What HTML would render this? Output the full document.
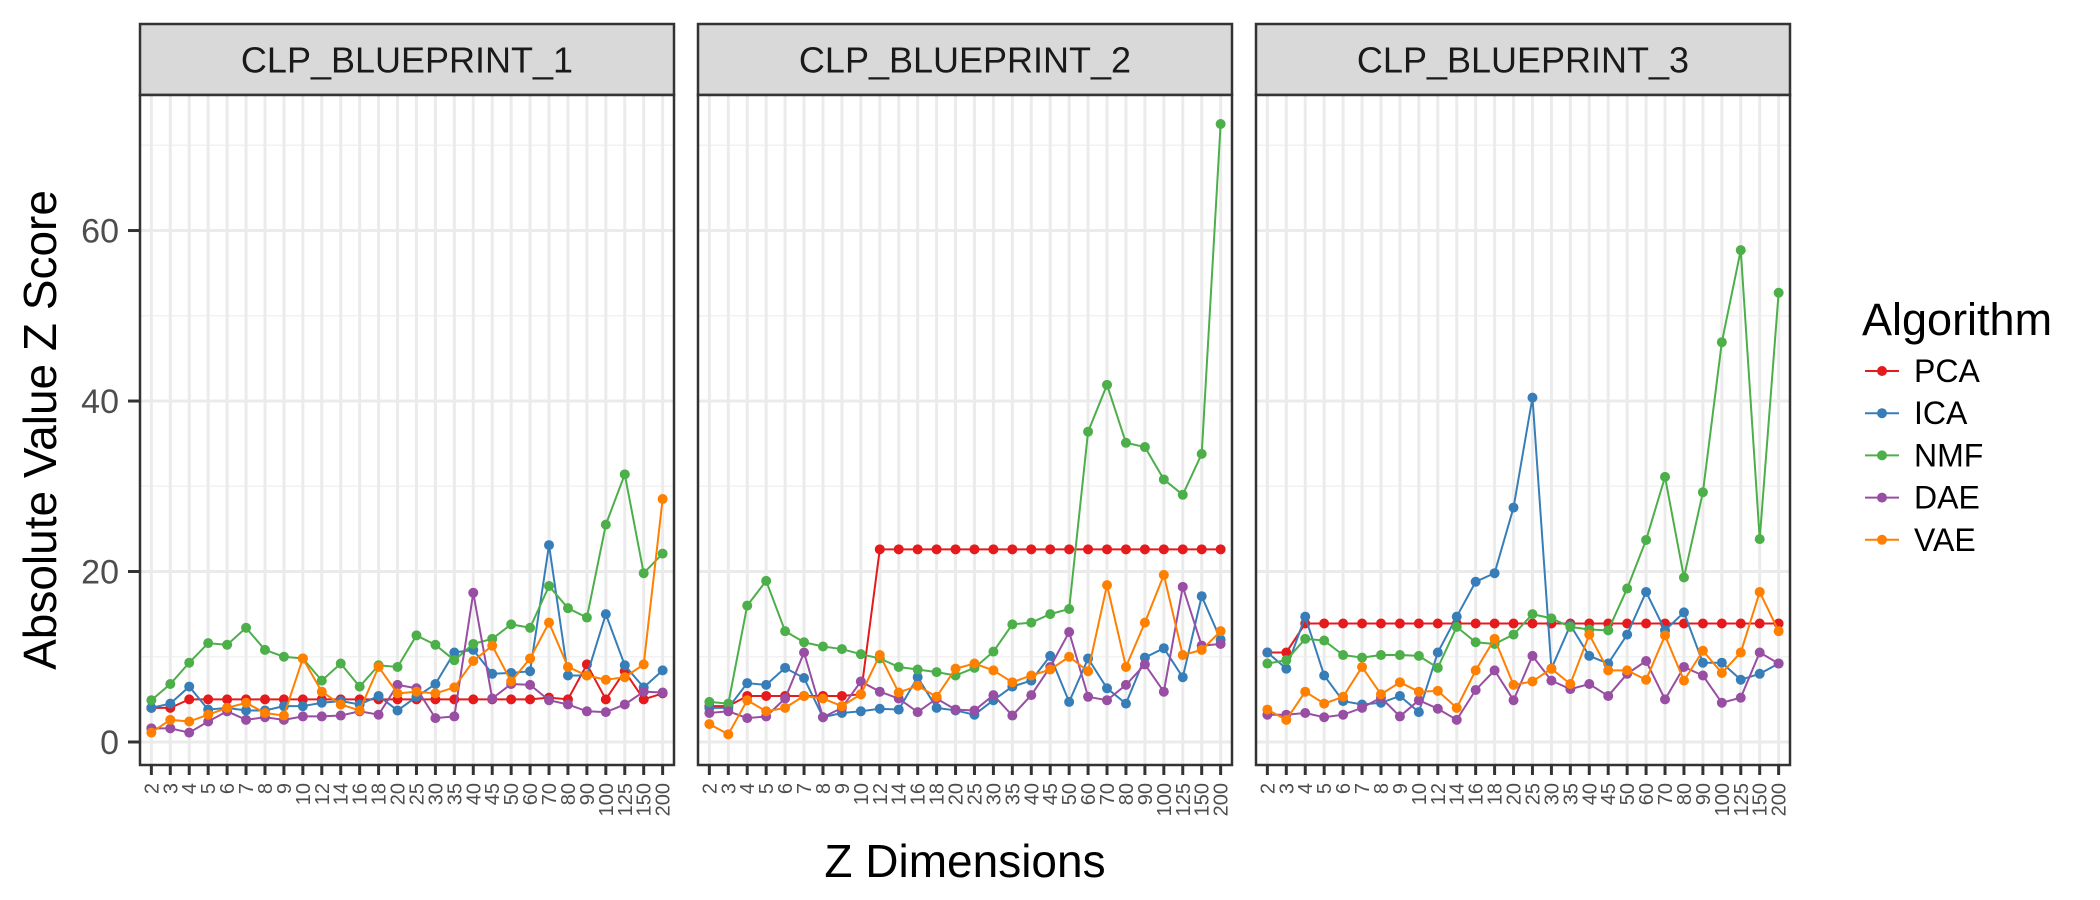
<!DOCTYPE html>
<html><head><meta charset="utf-8"><style>
html,body{margin:0;padding:0;background:#fff;}
svg{display:block;font-family:"Liberation Sans",Arial,sans-serif;}
</style></head><body>
<svg id="chart" width="2100" height="900" viewBox="0 0 2100 900" xmlns="http://www.w3.org/2000/svg"></svg>
<script>
const categories = ["2","3","4","5","6","7","8","9","10","12","14","16","18","20","25","30","35","40","45","50","60","70","80","90","100","125","150","200"];
const panels = ["CLP_BLUEPRINT_1","CLP_BLUEPRINT_2","CLP_BLUEPRINT_3"];
const algorithms = ["PCA","ICA","NMF","DAE","VAE"];
const yTicks = [0,20,40,60];
const yMinor = [10,30,50,70];
// Panel 1
const p1PCA = [4.0,4.0,5.0,5.0,5.0,5.0,5.0,5.0,5.0,5.0,5.0,5.0,5.0,5.0,5.0,5.0,5.0,5.0,5.0,5.0,5.0,5.2,5.0,9.1,5.0,8.3,5.0,5.7];
const p1ICA = [4.0,4.5,6.5,3.8,4.0,3.7,3.7,4.2,4.2,4.6,4.8,4.4,5.4,3.7,5.3,6.8,10.5,10.8,8.0,8.1,8.3,23.1,7.8,7.8,15.0,9.0,6.4,8.4];
const p1NMF = [4.9,6.8,9.3,11.6,11.4,13.4,10.8,10.0,9.8,7.2,9.2,6.5,9.0,8.8,12.5,11.4,9.6,11.5,12.1,13.8,13.4,18.3,15.7,14.6,25.5,31.4,19.8,22.1];
const p1DAE = [1.6,1.6,1.1,2.4,3.6,2.6,2.9,2.6,3.0,3.0,3.1,3.6,3.2,6.7,6.3,2.8,3.0,17.5,5.1,6.8,6.7,4.9,4.4,3.6,3.5,4.4,5.9,5.8];
const p1VAE = [1.1,2.6,2.4,3.2,4.0,4.6,3.4,3.1,9.8,5.9,4.4,3.7,8.8,5.7,5.9,5.7,6.4,9.5,11.3,7.1,9.8,14.0,8.8,7.8,7.3,7.6,9.1,28.5];
// Panel 2
const p2PCA = [4.2,4.2,5.4,5.4,5.4,5.4,5.4,5.4,5.6,22.6,22.6,22.6,22.6,22.6,22.6,22.6,22.6,22.6,22.6,22.6,22.6,22.6,22.6,22.6,22.6,22.6,22.6,22.6];
const p2ICA = [4.0,4.0,6.9,6.7,8.7,7.5,2.9,3.4,3.6,3.9,3.8,7.6,4.0,3.7,3.2,4.9,6.5,7.2,10.1,4.7,9.8,6.3,4.5,9.9,11.0,7.6,17.1,12.0];
const p2NMF = [4.7,4.5,16.0,18.9,13.0,11.7,11.2,10.9,10.3,9.8,8.8,8.5,8.2,7.8,8.7,10.6,13.8,14.0,15.0,15.6,36.4,41.9,35.1,34.6,30.8,29.0,33.8,72.5];
const p2DAE = [3.4,3.6,2.8,3.0,5.1,10.5,2.9,4.0,7.1,5.9,5.1,3.5,5.1,3.8,3.7,5.5,3.1,5.5,8.8,12.9,5.3,4.9,6.7,9.1,5.9,18.2,11.3,11.5];
const p2VAE = [2.1,0.9,4.9,3.6,4.0,5.4,5.1,4.2,5.6,10.2,5.8,6.6,5.3,8.6,9.2,8.4,7.0,7.8,8.5,10.0,8.3,18.4,8.8,14.0,19.6,10.2,10.8,13.0];
// Panel 3
const p3PCA = [10.5,10.5,13.9,13.9,13.9,13.9,13.9,13.9,13.9,13.9,13.9,13.9,13.9,13.9,13.9,13.9,13.9,13.9,13.9,13.9,13.9,13.9,13.9,13.9,13.9,13.9,13.9,13.9];
const p3ICA = [10.5,8.6,14.7,7.8,4.8,4.4,4.6,5.4,3.5,10.5,14.7,18.8,19.8,27.5,40.4,8.6,13.7,10.1,9.2,12.6,17.6,13.1,15.2,9.3,9.3,7.3,8.0,9.2];
const p3NMF = [9.2,9.6,12.1,11.9,10.2,9.9,10.2,10.2,10.1,8.7,13.5,11.7,11.5,12.6,15.0,14.5,13.5,13.2,13.1,18.0,23.7,31.1,19.3,29.3,46.9,57.7,23.8,52.7];
const p3DAE = [3.2,3.2,3.4,2.9,3.2,4.0,5.2,3.0,4.9,3.9,2.6,6.1,8.4,4.9,10.1,7.2,6.2,6.8,5.4,8.0,9.5,5.0,8.8,7.8,4.6,5.2,10.5,9.2];
const p3VAE = [3.8,2.6,5.9,4.5,5.3,8.8,5.6,7.0,5.9,6.0,4.0,8.4,12.1,6.7,7.1,8.6,6.8,12.6,8.4,8.4,7.3,12.5,7.2,10.7,8.1,10.5,17.6,13.0];

const series = [[p1PCA,p1ICA,p1NMF,p1DAE,p1VAE],[p2PCA,p2ICA,p2NMF,p2DAE,p2VAE],[p3PCA,p3ICA,p3NMF,p3DAE,p3VAE]];
const colors = ["#E41A1C","#377EB8","#4DAF4A","#984EA3","#FF7F00"];

const NS="http://www.w3.org/2000/svg";
const svg=document.getElementById('chart');
function mk(tag,attrs,parent){const e=document.createElementNS(NS,tag);for(const k in attrs)e.setAttribute(k,attrs[k]);(parent||svg).appendChild(e);return e;}

const panelLefts=[140,698,1256], panelW=534, plotTop=95, plotBottom=765, stripTop=24;
const yMin=-2.7, yMax=75.9;
function yScale(v){return plotBottom-(v-yMin)/(yMax-yMin)*(plotBottom-plotTop);}
const step=panelW/(categories.length-1+1.2);
function xScale(p,i){return panelLefts[p]+step*(0.6+i);}

panels.forEach((name,p)=>{
  const L=panelLefts[p];
  const g=mk('g',{});
  
  
  const strip=mk('rect',{x:L,y:stripTop,width:panelW,height:plotTop-stripTop,fill:'#d9d9d9',stroke:'#333',"stroke-width":2.5},g);
  
  
  const st=mk('text',{x:L+panelW/2,y:(stripTop+plotTop)/2+13,"text-anchor":"middle","font-size":36,fill:'#1a1a1a'},g);
  st.textContent=name;
  
  
  mk('rect',{x:L,y:plotTop,width:panelW,height:plotBottom-plotTop,fill:'#fff'},g);
  yMinor.forEach(v=>{const ln=mk('line',{x1:L,x2:L+panelW,y1:yScale(v),y2:yScale(v),stroke:'#f2f2f2',"stroke-width":1.5},g);
    });
  yTicks.forEach(v=>{const ln=mk('line',{x1:L,x2:L+panelW,y1:yScale(v),y2:yScale(v),stroke:'#ebebeb',"stroke-width":3},g);
    });
  categories.forEach((c,i)=>{const x=xScale(p,i);
    const ln=mk('line',{x1:x,x2:x,y1:plotTop,y2:plotBottom,stroke:'#ebebeb',"stroke-width":3},g);
    
    const tk=mk('line',{x1:x,x2:x,y1:plotBottom,y2:plotBottom+10,stroke:'#333',"stroke-width":3},g);
    
    const t=mk('text',{x:0,y:0,transform:`translate(${x+7},${plotBottom+18}) rotate(-90)`,"text-anchor":"end","font-size":20,fill:'#4d4d4d'},g);
    t.textContent=c;
    
  });
  series[p].forEach((vals,a)=>{
    const sg=mk('g',{},g);
    
    
    const pts=vals.map((v,i)=>xScale(p,i)+','+yScale(v)).join(' ');
    const pl=mk('polyline',{points:pts,fill:'none',stroke:colors[a],"stroke-width":2},sg);
    
    
    vals.forEach((v,i)=>{const c=mk('circle',{cx:xScale(p,i),cy:yScale(v),r:5,fill:colors[a]},sg);
      
      });
  });
  const fr=mk('rect',{x:L,y:plotTop,width:panelW,height:plotBottom-plotTop,fill:'none',stroke:'#333',"stroke-width":2.5},g);
  
});
// y axis
yTicks.forEach(v=>{const y=yScale(v);
  const tk=mk('line',{x1:128,x2:140,y1:y,y2:y,stroke:'#333',"stroke-width":3});
  
  const t=mk('text',{x:119,y:y+12,"text-anchor":"end","font-size":34,fill:'#4d4d4d'});
  t.textContent=v;
  
});
const yt=mk('text',{x:0,y:0,transform:'translate(56,430) rotate(-90)',"text-anchor":"middle","font-size":46,fill:'#000'});
yt.textContent='Absolute Value Z Score';

const xt=mk('text',{x:965,y:877,"text-anchor":"middle","font-size":46,fill:'#000'});
xt.textContent='Z Dimensions';

// legend
const lg=mk('g',{});

const lt=mk('text',{x:1862,y:335,"font-size":45,fill:'#000'},lg);
lt.textContent='Algorithm';

algorithms.forEach((a,i)=>{const y=371+i*42.2;
  const eg=mk('g',{},lg);
  
  mk('line',{x1:1865,x2:1899,y1:y,y2:y,stroke:colors[i],"stroke-width":2},eg);
  mk('circle',{cx:1882,cy:y,r:5,fill:colors[i]},eg);
  const t=mk('text',{x:1914,y:y+11,"font-size":32,fill:'#000'},eg);
  t.textContent=a;
  
});
</script>
</body></html>
